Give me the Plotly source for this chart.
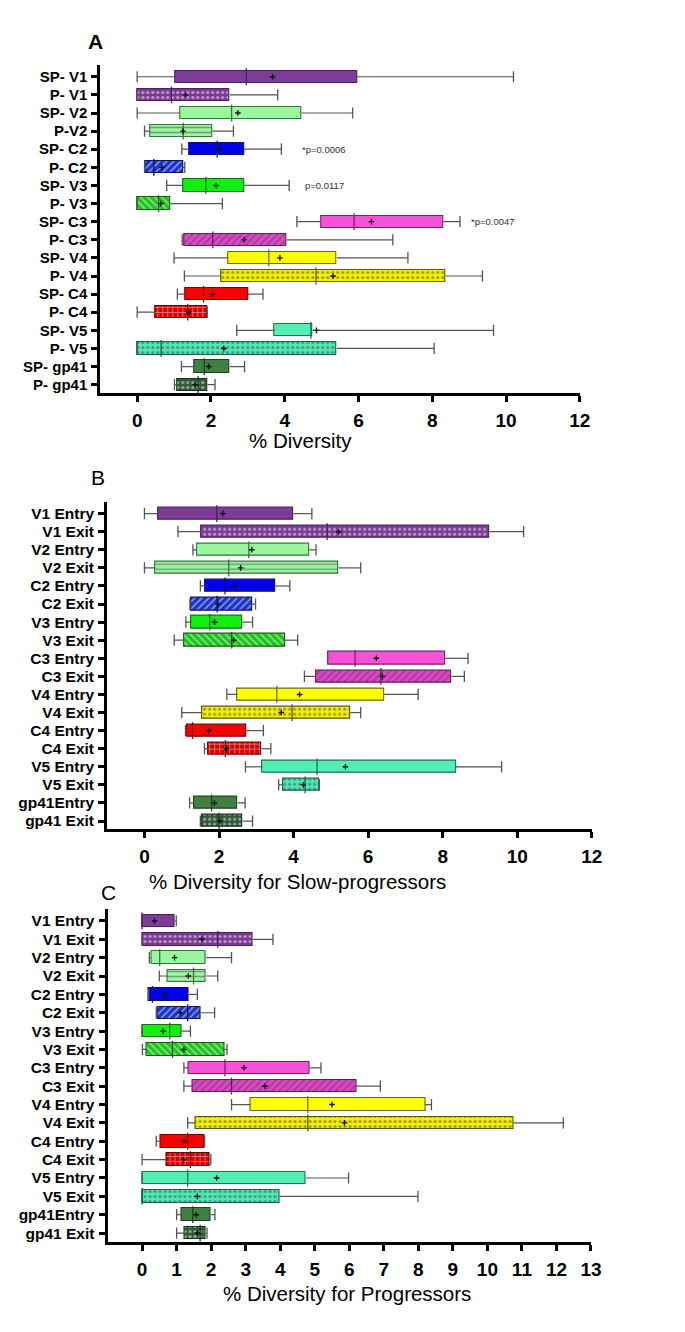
import plotly.graph_objects as go

# page body has an 8px margin; figure is sized so that page pixel coords map exactly
OFF = 8
W, H = 685 - OFF, 1332 - OFF
FONT = "Liberation Sans, Arial, sans-serif"

# ---------------- data ----------------
labels_a = ["SP- V1", "P- V1", "SP- V2", "P-V2", "SP- C2", "P- C2", "SP- V3", "P- V3",
            "SP- C3", "P- C3", "SP- V4", "P- V4", "SP- C4", "P- C4", "SP- V5", "P- V5",
            "SP- gp41", "P- gp41"]
labels_bc = ["V1 Entry", "V1 Exit", "V2 Entry", "V2 Exit", "C2 Entry", "C2 Exit",
             "V3 Entry", "V3 Exit", "C3 Entry", "C3 Exit", "V4 Entry", "V4 Exit",
             "C4 Entry", "C4 Exit", "V5 Entry", "V5 Exit", "gp41Entry", "gp41 Exit"]

# Panel A: all subjects (SP = slow progressors, P = progressors)
a_low  = [0, 0, 0, 0.2, 1.21, 0.2, 0.8, 0, 4.33, 1.22, 1.0, 1.28, 1.09, 0, 2.7, 0, 1.2, 1.01]
a_q1   = [1.02, 0, 1.16, 0.35, 1.42, 0.21, 1.25, 0, 4.98, 1.28, 2.46, 2.28, 1.3, 0.48, 3.73, 0, 1.55, 1.08]
a_med  = [2.96, 0.93, 2.56, 1.25, 2.17, 0.45, 1.86, 0.58, 5.88, 2.05, 3.57, 4.85, 1.8, 1.37, 4.71, 0.65, 1.82, 1.65]
a_q3   = [5.96, 2.51, 4.45, 2.04, 2.89, 1.24, 2.89, 0.9, 8.3, 4.05, 5.41, 8.36, 3.0, 1.89, 4.76, 5.41, 2.51, 1.91]
a_high = [10.2, 3.81, 5.84, 2.61, 3.91, 1.29, 4.12, 2.31, 8.75, 6.93, 7.34, 9.36, 3.41, 1.9, 9.66, 8.05, 2.91, 2.11]
a_mean = [3.67, 1.31, 2.73, 1.24, 2.22, 0.67, 2.14, 0.64, 6.35, 2.9, 3.87, 5.31, 2.04, 1.4, 4.86, 2.35, 1.94, 1.57]

# Panel B: slow progressors
b_low  = [0, 0.9, 1.3, 0, 1.5, 1.22, 1.11, 0.8, 4.91, 4.29, 2.21, 1.0, 1.1, 1.61, 2.71, 3.6, 1.21, 1.5]
b_q1   = [0.36, 1.53, 1.41, 0.28, 1.63, 1.25, 1.26, 1.07, 4.94, 4.6, 2.5, 1.56, 1.15, 1.7, 3.17, 3.71, 1.33, 1.56]
b_med  = [1.94, 4.9, 2.8, 2.26, 2.16, 1.95, 1.75, 2.34, 5.65, 6.34, 3.55, 3.96, 1.29, 2.17, 4.63, 4.31, 1.8, 2.0]
b_q3   = [3.99, 9.24, 4.42, 5.2, 3.5, 2.88, 2.62, 3.77, 8.06, 8.23, 6.43, 5.52, 2.73, 3.13, 8.35, 4.69, 2.5, 2.63]
b_high = [4.49, 10.17, 4.6, 5.8, 3.9, 2.98, 2.9, 4.11, 8.68, 8.58, 7.34, 5.8, 3.19, 3.39, 9.58, 4.69, 2.7, 2.9]
b_mean = [2.1, 5.21, 2.88, 2.58, 2.42, 1.97, 1.88, 2.39, 6.22, 6.38, 4.16, 3.67, 1.72, 2.2, 5.39, 4.26, 1.88, 2.02]

# Panel C: progressors
c_low  = [0, 0, 0.21, 0.5, 0.19, 0.41, 0, 0.01, 1.21, 1.21, 2.59, 1.32, 0.41, 0, 0, 0, 1.0, 1.0]
c_q1   = [0, 0, 0.26, 0.75, 0.2, 0.45, 0, 0.14, 1.35, 1.45, 3.14, 1.55, 0.54, 0.7, 0, 0, 1.14, 1.24]
c_med  = [0, 2.19, 0.51, 1.49, 0.3, 1.32, 0.8, 0.88, 2.4, 2.59, 4.8, 4.8, 1.32, 1.4, 1.32, 0, 1.47, 1.68]
c_q3   = [0.95, 3.21, 1.85, 1.85, 1.35, 1.69, 1.14, 2.39, 4.85, 6.2, 8.2, 10.75, 1.81, 1.94, 4.74, 3.99, 1.99, 1.85]
c_high = [0.99, 3.79, 2.59, 2.19, 1.6, 2.1, 1.4, 2.46, 5.18, 6.9, 8.38, 12.2, 1.81, 1.99, 5.98, 7.99, 2.11, 1.88]
c_mean = [0.36, 1.73, 0.94, 1.34, 0.67, 1.11, 0.61, 1.21, 2.95, 3.56, 5.5, 5.86, 1.21, 1.2, 2.16, 1.6, 1.57, 1.6]

# ---------------- styles (per row, same order in every panel) ----------------
fills    = ["#7d3c98", "#7a3a92", "#9cf59f", "#9cf59f", "#0000f0", "#1a35c8",
            "#11ee11", "#1ec41e", "#f552d8", "#e044c8", "#ffff00", "#f5f000",
            "#ff0000", "#d80000", "#4ff0b4", "#4aeab0", "#3f8040", "#2f5a35"]
outlines = ["#4a1f60", "#4a1f60", "#2f7a3a", "#2f7a3a", "#101070", "#101060",
            "#137013", "#0f5f0f", "#7a2070", "#6a1a60", "#6a6a00", "#5a5a00",
            "#800000", "#700000", "#207050", "#1a6048", "#1f401f", "#1a301a"]
shapes   = ["", ".", "", "-", "", "/", "", "\\", "", "/", "", ".", "", "+", "", ".", "", "."]
pat_fg   = ["#000", "#3a1050", "#000", "#2f7a3a", "#000", "#0a1060", "#000", "#0a5a0a",
            "#000", "#601050", "#000", "#505000", "#000", "#600000", "#000", "#1a6a50",
            "#000", "#0f200f"]
WHISK = "#555555"

panels = [
    dict(labels=labels_a, low=a_low, q1=a_q1, med=a_med, q3=a_q3, high=a_high, mean=a_mean,
         xa="x", ya="y"),
    dict(labels=labels_bc, low=b_low, q1=b_q1, med=b_med, q3=b_q3, high=b_high, mean=b_mean,
         xa="x2", ya="y2"),
    dict(labels=labels_bc, low=c_low, q1=c_q1, med=c_med, q3=c_q3, high=c_high, mean=c_mean,
         xa="x3", ya="y3"),
]

fig = go.Figure()
for p in panels:
    n = len(p["labels"])
    pos = list(range(n))
    # whiskers
    wx, wy = [], []
    for i in pos:
        wx += [p["low"][i], p["q1"][i], None, p["q3"][i], p["high"][i], None]
        wy += [i, i, None, i, i, None]
    fig.add_trace(go.Scatter(x=wx, y=wy, mode="lines", line=dict(color=WHISK, width=1.2),
                             xaxis=p["xa"], yaxis=p["ya"], hoverinfo="skip"))
    # whisker caps
    fig.add_trace(go.Scatter(x=p["low"] + p["high"], y=pos + pos, mode="markers",
                             marker=dict(symbol="line-ns", size=8,
                                         line=dict(color=WHISK, width=1.3)),
                             xaxis=p["xa"], yaxis=p["ya"], hoverinfo="skip"))
    # boxes
    fig.add_trace(go.Bar(
        y=pos, x=[p["q3"][i] - p["q1"][i] for i in pos], base=p["q1"], orientation="h",
        width=0.68, xaxis=p["xa"], yaxis=p["ya"],
        marker=dict(color=fills, line=dict(color=outlines, width=1.1),
                    pattern=dict(shape=shapes, fgcolor=pat_fg, fillmode="overlay",
                                 size=5, solidity=0.3)),
    ))
    # medians
    fig.add_trace(go.Scatter(x=p["med"], y=pos, mode="markers",
                             marker=dict(symbol="line-ns", size=12,
                                         line=dict(color=outlines, width=1.3)),
                             xaxis=p["xa"], yaxis=p["ya"], hoverinfo="skip"))
    # means
    fig.add_trace(go.Scatter(x=p["mean"], y=pos, mode="markers",
                             marker=dict(symbol="cross-thin", size=4,
                                         line=dict(color="#111111", width=1.4)),
                             xaxis=p["xa"], yaxis=p["ya"], hoverinfo="skip"))


def fx(px):
    return (px - OFF) / W


def fy(py):
    return 1 - (py - OFF) / H


def xax(dom_px, rng, tickvals, anchor):
    return dict(domain=[fx(dom_px[0]), fx(dom_px[1])], range=rng, anchor=anchor,
                tickvals=tickvals, showline=True, linewidth=3, linecolor="black",
                ticks="outside", ticklen=6, tickwidth=3, tickcolor="black",
                tickfont=dict(family=FONT, size=19, color="black", weight="bold"),
                showgrid=False, zeroline=False, ticklabelstandoff=2)


def yax(top_px, bot_px, rng, labels, anchor, fsize):
    return dict(domain=[fy(bot_px), fy(top_px)], range=rng, anchor=anchor,
                tickvals=list(range(len(labels))), ticktext=labels,
                showline=True, linewidth=3, linecolor="black",
                ticks="outside", ticklen=6, tickwidth=2.5, tickcolor="black",
                tickfont=dict(family=FONT, size=fsize, color="black", weight="bold"),
                showgrid=False, zeroline=False, ticklabelstandoff=1)


ann = []
def txt(t, x, y, size, bold=False, xref="paper", yref="paper", xanchor="center", color="black"):
    ann.append(dict(text=t, x=x, y=y, xref=xref, yref=yref, showarrow=False,
                    xanchor=xanchor, yanchor="middle",
                    font=dict(family=FONT, size=size, color=color,
                              weight="bold" if bold else "normal")))

txt("A", fx(97), fy(42), 21, bold=True)
txt("B", fx(99.5), fy(477), 21)
txt("C", fx(110), fy(892), 21)
txt("% Diversity", fx(305), fy(441), 20.5)
txt("% Diversity for Slow-progressors", fx(302.5), fy(881), 20.5)
txt("% Diversity for Progressors", fx(353), fy(1293), 20.5)
txt("*p=0.0006", 4.42, 4, 9.5, xref="x", yref="y", xanchor="left", color="#333333")
txt("p=0.0117", 4.5, 6, 9.5, xref="x", yref="y", xanchor="left", color="#333333")
txt("*p=0.0047", 9.0, 8, 9.5, xref="x", yref="y", xanchor="left", color="#333333")

fig.update_layout(
    width=W, height=H, margin=dict(l=0, r=0, t=0, b=0),
    paper_bgcolor="white", plot_bgcolor="white", showlegend=False, bargap=0,
    xaxis=xax((101.8, 589.3), [-1, 12], list(range(0, 13, 2)), "y"),
    yaxis=yax(65, 393, [17.46, -0.65], labels_a, "x", 15),
    xaxis2=xax((108.8, 601.5), [-1, 12], list(range(0, 13, 2)), "y2"),
    yaxis2=yax(501.7, 829, [17.44, -0.66], labels_bc, "x2", 15.5),
    xaxis3=xax((109.2, 600.6), [-1, 13], list(range(0, 14)), "y3"),
    yaxis3=yax(909, 1241.7, [17.47, -0.65], labels_bc, "x3", 15.5),
    annotations=ann,
)

fig.write_html("out.html")
